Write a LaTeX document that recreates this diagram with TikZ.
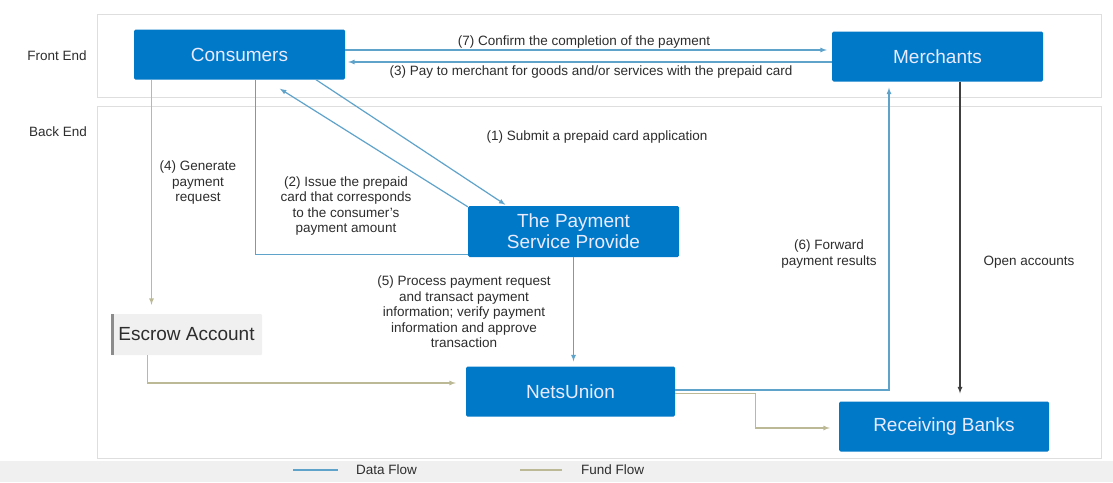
\documentclass[tikz,border=0pt]{standalone}
\usepackage{fontspec}
\setmainfont{Liberation Sans}
\definecolor{boxblue}{RGB}{0,121,200}
\definecolor{datablue}{RGB}{95,163,203}
\definecolor{fundkhaki}{RGB}{188,186,150}
\definecolor{panelgray}{RGB}{222,222,222}
\definecolor{txtgray}{RGB}{45,45,45}
\definecolor{escrowgray}{RGB}{240,240,240}

\tikzset{
  box/.style={fill=boxblue, text=white!92!blue, font=\fontsize{19}{21}\selectfont,
    minimum width=211pt, minimum height=50pt, inner sep=0pt, rounded corners=1.5pt, align=center},
  lbl/.style={text=txtgray, font=\fontsize{13.5}{15.5}\selectfont, align=center, inner sep=0pt},
  data/.style={datablue, line width=1.2pt},
  fund/.style={fundkhaki, line width=1.2pt},
  acct/.style={black!75, line width=1.2pt},
}

\begin{document}
\begin{tikzpicture}[x=1pt, y=-1pt, >=latex]
    \useasboundingbox (0,0) rectangle (1113,482);
    % 背景与分区
    \fill[black!6] (0,461) rectangle (1113,482);
    \draw[panelgray, fill=white, line width=1pt] (97,14) rectangle (1101,97);
    \draw[panelgray, fill=white, line width=1pt] (97,106) rectangle (1101,458);
    \node[lbl] (front) at (57,56) {Front End};
    \node[lbl] (back) at (58,132) {Back End};

    % 各方
    \node[box] (Consumers) at (239.5,54.5) {Consumers};
    \node[box] (Merchants) at (937.5,56.5) {Merchants};
    \node[box, minimum height=51pt] (PSP) at (573.5,231.5) {The Payment\\Service Provide};
    \node[box, minimum width=209pt] (NetsUnion) at (570.5,391.5) {NetsUnion};
    \node[box, minimum width=210pt] (RecvBanks) at (944,426.5) {Receiving Banks};
    \node[fill=escrowgray, text=txtgray, font=\fontsize{19}{21}\selectfont, minimum width=151pt,
      minimum height=41pt, inner sep=0pt, rounded corners=1pt] (Escrow) at (186.5,334.5) {Escrow Account};
    \fill[black!45] (Escrow.north west) rectangle ([xshift=3pt]Escrow.south west);

    % 数据流
    \draw[data,->,shorten >=5pt] ([yshift=4.5pt]Consumers.east) -- ([yshift=4.5pt]Consumers.east -| Merchants.west);
    \draw[data,->,shorten >=3pt] ([yshift=-5.5pt]Merchants.west) -- ([yshift=-5.5pt]Merchants.west -| Consumers.east);
    \draw[data,->,shorten >=2pt] ([xshift=76.5pt]Consumers.south) -- ([xshift=-66.5pt]PSP.north);
    \draw[data,->,shorten >=17pt] ([yshift=-1pt]PSP.north west) -- ([xshift=26pt]Consumers.south);
    \draw[data] ([xshift=16pt]Consumers.south) |- ([yshift=3pt]PSP.south west);
    \draw[data,->,shorten >=5pt] (PSP.south) -- (PSP.south |- NetsUnion.north);
    \draw[data,->,shorten >=6pt] ([yshift=1.5pt]NetsUnion.east) -| ([xshift=-48.5pt]Merchants.south);

    % 资金流
    \draw[fund,->,shorten >=9pt] ([xshift=-88pt]Consumers.south) -- ([xshift=-88pt]Consumers.south |- Escrow.north);
    \draw[fund,->,shorten >=10pt] ([xshift=-39pt]Escrow.south) |- ([yshift=8.5pt]NetsUnion.west);
    \draw[fund,->,shorten >=9pt] ([yshift=-2pt]NetsUnion.east) -- ++(80,0) |- ([yshift=-1.5pt]RecvBanks.west);
    \draw[acct,->,shorten >=8pt] ([xshift=22.5pt]Merchants.south) -- ([xshift=22.5pt]Merchants.south |- RecvBanks.north);

    % 标注
    \node[lbl] (l7) at (584,42) {(7) Confirm the completion of the payment};
    \node[lbl] (l3) at (591,72) {(3) Pay to merchant for goods and/or services with the prepaid card};
    \node[lbl] (l1) at (597,137) {(1) Submit a prepaid card application};
    \node[lbl] (l4) at (198,183) {(4) Generate\\payment\\request};
    \node[lbl] (l2) at (346,206) {(2) Issue the prepaid\\card that corresponds\\to the consumer's\\payment amount};
    \node[lbl] (l5) at (464,312) {(5) Process payment request\\and transact payment\\information; verify payment\\information and approve\\transaction};
    \node[lbl] (l6) at (829,254) {(6) Forward\\payment results};
    \node[lbl] (lacct) at (1029,262) {Open accounts};

    % 图例
    \coordinate (d1) at (293,470);
    \coordinate (d2) at (338,470);
    \coordinate (f1) at (520,470);
    \coordinate (f2) at (562,470);
    \draw[data] (d1) -- (d2);
    \draw[fund] (f1) -- (f2);
    \node[lbl, anchor=west] (ldata) at (356,470) {Data Flow};
    \node[lbl, anchor=west] (lfund) at (581,470) {Fund Flow};
\end{tikzpicture}
\end{document}
